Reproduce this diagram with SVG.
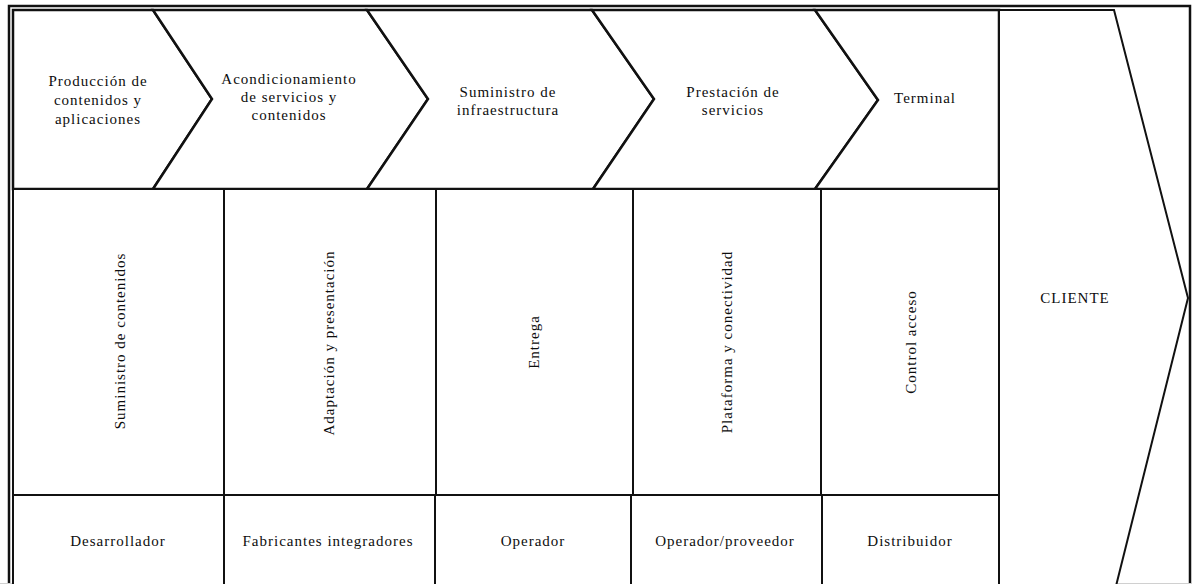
<svg xmlns="http://www.w3.org/2000/svg" width="1192" height="584" viewBox="0 0 1192 584">
  <style>
    .shape { fill: #ffffff; stroke: #111111; stroke-width: 2; stroke-linejoin: miter; }
    .chev { fill: #ffffff; stroke: #111111; stroke-width: 2.5; stroke-linejoin: miter; }
    .frame { fill: none; stroke: #111111; stroke-width: 2.5; }
    .lbl { font-family: "Liberation Serif", "Times New Roman", serif; font-size: 15px; fill: #0d0d0d; letter-spacing: 1px; text-anchor: middle; }
  </style>
  <rect x="0" y="0" width="1192" height="584" fill="#ffffff"/>

  <!-- outer double frame -->
  <g id="frame">
    <polyline class="frame" points="9,590 9,6 1190,6 1190,590"/>
    <line x1="0" y1="583.5" x2="1192" y2="583.5" stroke="#d0d0d0" stroke-width="1"/>
  </g>

  <!-- stage chevrons (top row) -->
  <g id="stage-produccion">
    <polygon class="chev" points="13,10 153,10 212,99 153,189 13,189"/>
    <text class="lbl" x="98" y="86">Producción de</text>
    <text class="lbl" x="98" y="105">contenidos y</text>
    <text class="lbl" x="98" y="124">aplicaciones</text>
  </g>
  <g id="stage-acondicionamiento">
    <polygon class="chev" points="153,10 367,10 428,99 367,189 153,189 212,99"/>
    <text class="lbl" x="289" y="84">Acondicionamiento</text>
    <text class="lbl" x="289" y="102">de servicios y</text>
    <text class="lbl" x="289" y="120">contenidos</text>
  </g>
  <g id="stage-infraestructura">
    <polygon class="chev" points="367,10 592,10 654,99 593,189 367,189 428,99"/>
    <text class="lbl" x="508" y="97">Suministro de</text>
    <text class="lbl" x="508" y="115">infraestructura</text>
  </g>
  <g id="stage-prestacion">
    <polygon class="chev" points="592,10 815,10 878,100 815,189 593,189 654,99"/>
    <text class="lbl" x="733" y="97">Prestación de</text>
    <text class="lbl" x="733" y="115">servicios</text>
  </g>
  <g id="stage-terminal">
    <polygon class="chev" points="815,10 999,10 999,189 815,189 878,100"/>
    <text class="lbl" x="925" y="103">Terminal</text>
  </g>

  <!-- final arrow -->
  <g id="cliente">
    <polygon class="shape" points="999,10 1114,10 1188,298 1115,590 999,590"/>
    <text class="lbl" x="1075" y="303">CLIENTE</text>
  </g>

  <!-- function row (vertical labels) -->
  <g id="func-contenidos">
    <rect class="shape" x="13" y="189" width="211" height="306"/>
    <text class="lbl" transform="translate(125,341) rotate(-90)" x="0" y="0">Suministro de contenidos</text>
  </g>
  <g id="func-adaptacion">
    <rect class="shape" x="224" y="189" width="212" height="306"/>
    <text class="lbl" transform="translate(334,343) rotate(-90)" x="0" y="0">Adaptación y presentación</text>
  </g>
  <g id="func-entrega">
    <rect class="shape" x="436" y="189" width="197" height="306"/>
    <text class="lbl" transform="translate(539,342) rotate(-90)" x="0" y="0">Entrega</text>
  </g>
  <g id="func-plataforma">
    <rect class="shape" x="633" y="189" width="188" height="306"/>
    <text class="lbl" transform="translate(732,342) rotate(-90)" x="0" y="0">Plataforma y conectividad</text>
  </g>
  <g id="func-control">
    <rect class="shape" x="821" y="189" width="178" height="306"/>
    <text class="lbl" transform="translate(916,342) rotate(-90)" x="0" y="0">Control acceso</text>
  </g>

  <!-- actor row -->
  <g id="actor-desarrollador">
    <rect class="shape" x="13" y="495" width="211" height="95"/>
    <text class="lbl" x="118" y="546">Desarrollador</text>
  </g>
  <g id="actor-fabricantes">
    <rect class="shape" x="224" y="495" width="211" height="95"/>
    <text class="lbl" x="328" y="546">Fabricantes integradores</text>
  </g>
  <g id="actor-operador">
    <rect class="shape" x="435" y="495" width="196" height="95"/>
    <text class="lbl" x="533" y="546">Operador</text>
  </g>
  <g id="actor-proveedor">
    <rect class="shape" x="631" y="495" width="191" height="95"/>
    <text class="lbl" x="725" y="546">Operador/proveedor</text>
  </g>
  <g id="actor-distribuidor">
    <rect class="shape" x="822" y="495" width="177" height="95"/>
    <text class="lbl" x="910" y="546">Distribuidor</text>
  </g>
</svg>
